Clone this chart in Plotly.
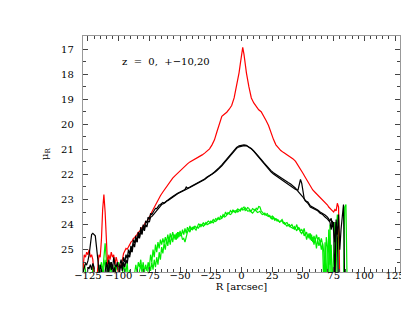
import plotly.graph_objects as go

# Surface brightness profiles: (R [arcsec], mu_R)
red_points = [
    (-129, 25.8), (-128, 25.2), (-127, 25.3), (-126, 25.1), (-125, 25.2), (-124, 25.0), (-123, 25.3),
    (-122, 25.2), (-121, 25.4), (-120, 26.5), (-119, 26.5), (-118, 26.3), (-117, 25.6), (-116, 25.2),
    (-115, 25.3), (-114, 24.6), (-113, 23.4), (-112, 22.8), (-111, 23.5), (-110, 25.0), (-109, 25.6),
    (-108, 25.2), (-107, 25.4), (-106, 25.1), (-105, 25.3), (-104, 25.2), (-103, 25.6), (-102, 25.3),
    (-101, 25.5), (-100, 26.3), (-99, 25.6), (-98, 25.7), (-97, 25.4), (-96, 25.15), (-95, 25.05),
    (-94, 24.95), (-93, 24.98), (-92, 24.85), (-91, 24.8), (-90, 24.7), (-89, 24.66), (-88, 24.55),
    (-87, 24.52), (-86, 24.45), (-85, 24.4), (-84, 24.3), (-83, 24.28), (-82, 24.2), (-81, 24.1),
    (-80, 24.05), (-79, 24.0), (-78, 23.9), (-77, 23.88), (-76, 23.8), (-75, 23.72), (-74, 23.62),
    (-73, 23.5), (-72, 23.4), (-71, 23.32), (-70, 23.2), (-69, 23.12), (-68, 23.0), (-67, 22.95),
    (-66, 22.85), (-64, 22.7), (-62, 22.55), (-60, 22.4), (-58, 22.28), (-56, 22.15), (-54, 22.05),
    (-52, 21.95), (-50, 21.85), (-48, 21.75), (-46, 21.65), (-44, 21.58), (-42, 21.5), (-40, 21.45),
    (-38, 21.4), (-36, 21.35), (-34, 21.28), (-32, 21.22), (-30, 21.15), (-28, 21.08), (-26, 20.98),
    (-24, 20.82), (-22, 20.62), (-20, 20.3), (-18, 19.95), (-16, 19.68), (-14, 19.6), (-12, 19.52),
    (-10, 19.4), (-8, 19.25), (-6, 18.95), (-4, 18.5), (-2, 17.95), (-1, 17.6), (0, 17.2), (1, 16.93),
    (2, 17.2), (3, 17.6), (4, 17.95), (6, 18.5), (8, 18.95), (10, 19.15), (12, 19.3), (14, 19.42),
    (16, 19.5), (18, 19.65), (20, 19.85), (22, 20.05), (24, 20.35), (26, 20.6), (28, 20.82),
    (30, 20.95), (32, 21.05), (34, 21.12), (36, 21.18), (38, 21.25), (40, 21.3), (42, 21.38),
    (44, 21.48), (46, 21.62), (48, 21.78), (50, 21.95), (52, 22.12), (54, 22.3), (56, 22.5),
    (58, 22.62), (60, 22.72), (62, 22.82), (64, 22.9), (66, 23.0), (67, 23.08), (68, 23.1),
    (69, 23.18), (70, 23.22), (71, 23.3), (72, 23.35), (73, 23.42), (74, 23.45), (75, 23.5),
    (76, 23.4), (77, 23.45), (78, 23.15), (79, 23.3), (80, 26.5),
]

black_a_points = [
    (-129, 25.9), (-128, 25.7), (-127, 25.55), (-126, 25.6), (-125, 25.45), (-124, 25.2), (-123, 24.8),
    (-122, 24.4), (-121, 24.35), (-120, 24.4), (-119, 24.45), (-118, 24.9), (-117, 25.5), (-116, 25.8),
    (-115, 26.3), (-112, 26.3), (-110, 25.5), (-109, 25.8), (-108, 25.4), (-107, 25.7), (-106, 25.5),
    (-105, 25.8), (-104, 25.3), (-103, 25.6), (-102, 25.7), (-101, 25.5), (-100, 25.85), (-99, 25.6),
    (-98, 25.4), (-97, 25.7), (-96, 25.3), (-95, 25.5), (-94, 25.2), (-93, 25.35), (-92, 25.0),
    (-91, 25.2), (-90, 24.85), (-89, 25.0), (-88, 24.6), (-87, 24.75), (-86, 24.45), (-85, 24.7),
    (-84, 24.3), (-83, 24.5), (-82, 24.1), (-81, 24.35), (-80, 24.0), (-79, 24.15), (-78, 23.85),
    (-77, 23.95), (-76, 23.7), (-75, 23.8), (-74, 23.55), (-73, 23.6), (-72, 23.5), (-71, 23.42),
    (-70, 23.35), (-69, 23.36), (-68, 23.28), (-67, 23.22), (-66, 23.2), (-65, 23.15), (-64, 23.12),
    (-63, 23.14), (-62, 23.1), (-61, 23.04), (-60, 23.0), (-58, 22.95), (-56, 22.88), (-54, 22.8),
    (-52, 22.75), (-50, 22.7), (-48, 22.65), (-46, 22.6), (-45, 22.5), (-44, 22.55), (-42, 22.5),
    (-40, 22.45), (-38, 22.4), (-36, 22.35), (-34, 22.3), (-32, 22.25), (-30, 22.18), (-28, 22.1),
    (-26, 22.05), (-24, 21.98), (-22, 21.9), (-20, 21.82), (-18, 21.72), (-16, 21.62), (-14, 21.5),
    (-12, 21.38), (-10, 21.25), (-8, 21.12), (-6, 21.0), (-4, 20.92), (-2, 20.86), (0, 20.83),
    (2, 20.82), (4, 20.84), (6, 20.9), (8, 20.98), (10, 21.08), (12, 21.2), (14, 21.32), (16, 21.45),
    (18, 21.58), (20, 21.7), (22, 21.8), (24, 21.9), (26, 21.98), (28, 22.05), (30, 22.12),
    (32, 22.2), (34, 22.25), (36, 22.32), (38, 22.38), (40, 22.45), (42, 22.52), (44, 22.6),
    (46, 22.62), (47, 22.4), (48, 22.2), (49, 22.35), (50, 22.7), (51, 22.95), (52, 23.05),
    (54, 23.1), (56, 23.25), (58, 23.3), (60, 23.35), (62, 23.42), (64, 23.5), (66, 23.55),
    (68, 23.62), (70, 23.7), (72, 23.85), (73, 23.75), (74, 24.1), (75, 23.9), (76, 26.5),
    (77, 23.8), (78, 24.5), (79, 26.5),
]

black_b_points = [
    (-129, 25.85), (-128, 26.3), (-126, 26.3), (-125, 25.7), (-124, 25.75), (-123, 25.6), (-122, 25.8),
    (-121, 25.55), (-120, 25.7), (-119, 26.3), (-116, 26.3), (-115, 25.6), (-114, 25.8), (-113, 26.3),
    (-110, 26.3), (-109, 25.6), (-108, 25.9), (-107, 25.5), (-106, 25.8), (-105, 25.6), (-104, 25.9),
    (-103, 25.7), (-102, 26.3), (-100, 26.3), (-99, 25.8), (-98, 25.6), (-97, 25.85), (-96, 25.5),
    (-95, 25.7), (-94, 25.4), (-93, 25.55), (-92, 25.2), (-91, 25.3), (-90, 24.95), (-89, 25.1),
    (-88, 24.75), (-87, 24.9), (-86, 24.55), (-85, 24.7), (-84, 24.4), (-83, 24.55), (-82, 24.25),
    (-81, 24.4), (-80, 24.1), (-79, 24.25), (-78, 24.0), (-77, 24.1), (-76, 23.85), (-75, 23.9),
    (-74, 23.7), (-73, 23.68), (-72, 23.6), (-71, 23.56), (-70, 23.5), (-69, 23.44), (-68, 23.4),
    (-67, 23.31), (-66, 23.28), (-65, 23.2), (-64, 23.18), (-63, 23.16), (-62, 23.12), (-61, 23.06),
    (-60, 23.05), (-58, 22.98), (-56, 22.9), (-54, 22.83), (-52, 22.77), (-50, 22.72), (-48, 22.66),
    (-46, 22.62), (-44, 22.57), (-42, 22.52), (-40, 22.47), (-38, 22.42), (-36, 22.36), (-34, 22.31),
    (-32, 22.26), (-30, 22.2), (-28, 22.12), (-26, 22.06), (-24, 21.99), (-22, 21.92), (-20, 21.84),
    (-18, 21.76), (-16, 21.66), (-14, 21.54), (-12, 21.42), (-10, 21.3), (-8, 21.17), (-6, 21.05),
    (-4, 20.96), (-2, 20.9), (0, 20.86), (2, 20.85), (4, 20.86), (6, 20.9), (8, 20.97), (10, 21.06),
    (12, 21.16), (14, 21.27), (16, 21.4), (18, 21.52), (20, 21.64), (22, 21.75), (24, 21.85),
    (26, 21.93), (28, 22.0), (30, 22.07), (32, 22.14), (34, 22.2), (36, 22.26), (38, 22.32),
    (40, 22.38), (42, 22.45), (44, 22.55), (46, 22.68), (48, 22.78), (50, 22.9), (52, 23.05),
    (54, 23.15), (56, 23.3), (58, 23.35), (60, 23.4), (62, 23.45), (64, 23.55), (66, 23.6),
    (68, 23.7), (70, 23.78), (72, 23.9), (73, 24.2), (74, 23.85), (75, 24.4), (76, 24.7),
    (77, 23.9), (78, 24.4), (79, 23.6), (80, 25.0), (81, 24.2), (82, 23.5), (83, 23.2), (84, 26.5),
]

green_a_points = [
    (-129, 25.65), (-128, 25.9), (-127, 26.3), (-122, 26.3), (-121, 25.7), (-120, 26.3), (-116, 26.3),
    (-115, 25.8), (-114, 25.5), (-113, 25.9), (-112, 25.3), (-111, 24.75), (-110, 25.4), (-109, 26.0),
    (-108, 25.6), (-107, 25.9), (-106, 25.5), (-105, 26.3), (-103, 26.3), (-102, 25.6), (-101, 25.8),
    (-100, 25.5), (-99, 26.3), (-96, 26.3), (-95, 25.7), (-94, 25.9), (-93, 25.5), (-92, 26.3),
    (-88, 26.3), (-87, 25.8), (-86, 25.6), (-85, 25.9), (-84, 25.5), (-83, 25.7), (-82, 25.4),
    (-81, 25.8), (-80, 25.5), (-79, 25.9), (-78, 25.6), (-77, 25.85), (-76, 25.5), (-75, 25.7),
    (-74, 25.2), (-73, 25.5), (-72, 25.0), (-71, 25.3), (-70, 24.8), (-69, 25.1), (-68, 24.7),
    (-67, 24.95), (-66, 24.6), (-65, 24.8), (-64, 24.55), (-63, 24.75), (-62, 24.5), (-61, 24.7),
    (-60, 24.4), (-59, 24.65), (-58, 24.35), (-57, 24.55), (-56, 24.3), (-55, 24.5), (-54, 24.4),
    (-53, 24.6), (-52, 24.3), (-51, 24.5), (-50, 24.25), (-49, 24.45), (-48, 24.2), (-47, 24.4),
    (-46, 24.15), (-45, 24.35), (-44, 24.1), (-43, 24.25), (-42, 24.05), (-41, 24.2), (-40, 24.1),
    (-39, 24.18), (-38, 24.05), (-37, 24.12), (-36, 24.1), (-35, 23.98), (-34, 24.0), (-33, 24.08),
    (-32, 23.98), (-31, 23.92), (-30, 24.02), (-29, 23.97), (-28, 23.95), (-27, 23.86), (-26, 23.9),
    (-25, 23.94), (-24, 23.88), (-23, 23.8), (-22, 23.85), (-21, 23.76), (-20, 23.8), (-19, 23.72),
    (-18, 23.78), (-17, 23.66), (-16, 23.72), (-15, 23.6), (-14, 23.65), (-13, 23.5), (-12, 23.6),
    (-11, 23.52), (-10, 23.55), (-9, 23.44), (-8, 23.5), (-7, 23.42), (-6, 23.45), (-5, 23.52),
    (-4, 23.48), (-3, 23.38), (-2, 23.42), (-1, 23.46), (0, 23.38), (1, 23.33), (2, 23.3),
    (3, 23.44), (4, 23.4), (5, 23.32), (6, 23.35), (7, 23.48), (8, 23.45), (9, 23.36), (10, 23.4),
    (11, 23.44), (12, 23.35), (13, 23.4), (14, 23.28), (15, 23.3), (16, 23.45), (17, 23.5),
    (18, 23.55), (19, 23.62), (20, 23.6), (21, 23.56), (22, 23.65), (23, 23.7), (24, 23.72),
    (25, 23.66), (26, 23.78), (27, 23.82), (28, 23.75), (29, 23.86), (30, 23.82), (31, 23.9),
    (32, 23.85), (33, 23.8), (34, 23.9), (35, 23.98), (36, 23.95), (37, 23.92), (38, 24.0),
    (39, 24.08), (40, 24.05), (41, 24.0), (42, 24.1), (43, 24.18), (44, 24.12), (45, 24.0),
    (46, 24.2), (47, 24.12), (48, 24.25), (49, 24.2), (50, 24.3), (51, 24.15), (52, 24.4),
    (53, 24.3), (54, 24.5), (55, 24.35), (56, 24.6), (57, 24.4), (58, 24.7), (59, 24.45),
    (60, 24.65), (61, 24.4), (62, 24.6), (63, 24.5), (64, 24.75), (65, 24.55), (66, 24.8),
    (67, 26.5), (68, 24.7), (69, 25.3), (70, 26.5), (71, 24.2), (72, 25.6), (73, 24.8), (74, 26.5),
    (75, 25.2), (76, 23.9), (77, 24.6), (78, 26.5),
]

green_b_points = [
    (-129, 25.9), (-128, 25.6), (-127, 25.8), (-126, 26.3), (-118, 26.3), (-117, 25.8), (-116, 25.6),
    (-115, 26.3), (-113, 26.3), (-112, 25.7), (-111, 25.4), (-110, 25.8), (-109, 25.5), (-108, 26.3),
    (-106, 26.3), (-105, 25.7), (-104, 25.9), (-103, 25.6), (-102, 26.3), (-98, 26.3), (-97, 25.8),
    (-96, 25.6), (-95, 25.9), (-94, 26.3), (-92, 26.3), (-91, 25.8), (-90, 26.3), (-84, 26.3),
    (-83, 25.85), (-82, 25.6), (-81, 25.9), (-80, 25.7), (-79, 26.3), (-77, 26.3), (-76, 25.8),
    (-75, 25.6), (-74, 25.85), (-73, 25.5), (-72, 25.8), (-71, 25.4), (-70, 25.7), (-69, 25.3),
    (-68, 25.6), (-67, 25.1), (-66, 25.4), (-65, 24.9), (-64, 25.15), (-63, 24.75), (-62, 25.0),
    (-61, 24.6), (-60, 24.85), (-59, 24.5), (-58, 24.8), (-57, 24.45), (-56, 24.7), (-55, 24.4),
    (-54, 24.6), (-53, 24.35), (-52, 24.55), (-51, 24.3), (-50, 24.45), (-49, 24.4), (-48, 24.6),
    (-47, 24.55), (-46, 24.7), (-45, 24.45), (-44, 24.3), (-43, 24.2), (-42, 24.3), (-41, 24.15),
    (-40, 24.2), (-39, 24.1), (-38, 24.15), (-37, 24.22), (-36, 24.1), (-35, 24.14), (-34, 24.05),
    (-33, 23.99), (-32, 24.02), (-31, 24.07), (-30, 23.98), (-29, 23.92), (-28, 24.0), (-27, 23.96),
    (-26, 23.95), (-25, 23.86), (-24, 23.9), (-23, 23.93), (-22, 23.85), (-21, 23.88), (-20, 23.82),
    (-19, 23.76), (-18, 23.8), (-17, 23.78), (-16, 23.75), (-15, 23.66), (-14, 23.7), (-13, 23.68),
    (-12, 23.62), (-11, 23.56), (-10, 23.58), (-9, 23.6), (-8, 23.55), (-7, 23.46), (-6, 23.5),
    (-5, 23.44), (-4, 23.42), (-3, 23.5), (-2, 23.45), (-1, 23.38), (0, 23.35), (1, 23.42),
    (2, 23.4), (3, 23.33), (4, 23.38), (5, 23.46), (6, 23.45), (7, 23.42), (8, 23.5), (9, 23.54),
    (10, 23.48), (11, 23.4), (12, 23.45), (13, 23.52), (14, 23.5), (15, 23.47), (16, 23.55),
    (17, 23.6), (18, 23.58), (19, 23.54), (20, 23.62), (21, 23.66), (22, 23.68), (23, 23.64),
    (24, 23.75), (25, 23.78), (26, 23.7), (27, 23.76), (28, 23.82), (29, 23.8), (30, 23.85),
    (31, 23.9), (32, 23.88), (33, 23.84), (34, 23.95), (35, 23.92), (36, 24.0), (37, 24.06),
    (38, 24.02), (39, 24.0), (40, 24.1), (41, 24.14), (42, 24.15), (43, 24.08), (44, 24.2),
    (45, 24.25), (46, 24.1), (47, 24.22), (48, 24.3), (49, 24.36), (50, 24.25), (51, 24.45),
    (52, 24.35), (53, 24.6), (54, 24.4), (55, 24.55), (56, 24.35), (57, 24.65), (58, 24.5),
    (59, 24.8), (60, 24.55), (61, 24.95), (62, 24.6), (63, 24.85), (64, 24.7), (65, 25.0),
    (66, 24.75), (67, 25.1), (68, 26.5), (69, 24.5), (70, 24.9), (71, 26.5), (72, 24.0), (73, 26.5),
    (76, 26.5), (77, 24.3), (78, 23.6), (79, 24.5), (80, 26.5), (83, 26.5), (84, 23.3), (85, 23.2),
    (86, 26.5),
]

x_tick_vals = [-125, -100, -75, -50, -25, 0, 25, 50, 75, 100, 125]
y_tick_vals = [17, 18, 19, 20, 21, 22, 23, 24, 25]
label_text = "z  =  0,  +\u221210,20"

FONT = "DejaVu Serif"

fig = go.Figure()
series = [
    (green_a_points, "#00ee00"),
    (green_b_points, "#00ee00"),
    (red_points, "#ff0000"),
    (black_a_points, "#000000"),
    (black_b_points, "#000000"),
]
for pts, col in series:
    fig.add_trace(go.Scatter(
        x=[p[0] for p in pts], y=[p[1] for p in pts], mode="lines",
        line=dict(color=col, width=1.2), showlegend=False, hoverinfo="skip",
    ))

fig.add_annotation(x=-98.5, y=17.48, text=label_text, showarrow=False,
                   xanchor="left", yanchor="middle",
                   font=dict(family=FONT, size=10, color="#000"))

axis_common = dict(
    showgrid=False, zeroline=False, showline=True, linecolor="#999", linewidth=1.3,
    mirror="ticks", ticks="inside", tickcolor="#444", tickwidth=1,
    tickfont=dict(family=FONT, size=10, color="#000"),
)
fig.update_xaxes(
    range=[-129, 129], tickvals=x_tick_vals, ticklen=5,
    minor=dict(dtick=5, tick0=0, ticklen=2.5, ticks="inside", tickcolor="#444"),
    title=dict(text="R [arcsec]", font=dict(family=FONT, size=10, color="#000"), standoff=2),
    ticklabelstandoff=-6,
    **axis_common,
)
fig.update_yaxes(
    range=[25.89, 16.48], tickvals=y_tick_vals, ticklen=5,
    minor=dict(dtick=0.5, tick0=0, ticklen=2.5, ticks="inside", tickcolor="#444"),
    title=dict(text="\u03bc<sub>R</sub>", font=dict(family=FONT, size=10, color="#000"), standoff=10),
    ticklabelstandoff=6,
    **axis_common,
)
fig.update_layout(
    width=409, height=316,
    margin=dict(l=75, r=12, t=28, b=52),
    paper_bgcolor="white", plot_bgcolor="white",
)
fig.write_html("out.html")
